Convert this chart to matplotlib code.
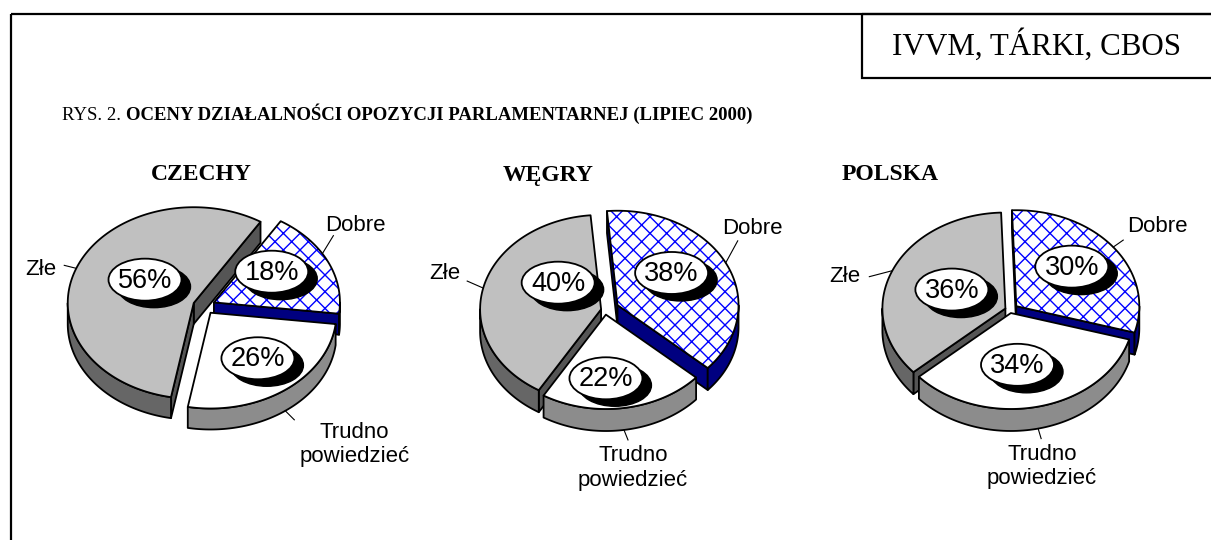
import numpy as np
import matplotlib
matplotlib.use("Agg")
import matplotlib.pyplot as plt
from matplotlib.patches import Polygon, Ellipse, Rectangle

# ---------------- data ----------------
countries = ["CZECHY", "WĘGRY", "POLSKA"]
categories = ["Dobre", "Trudno\npowiedzieć", "Złe"]
czechy = [18, 26, 56]
wegry = [38, 22, 40]
polska = [30, 34, 36]
series = [czechy, wegry, polska]
title_prefix = "RYS. 2. "
title_main = "OCENY DZIAŁALNOŚCI OPOZYCJI PARLAMENTARNEJ (LIPIEC 2000)"
source_text = "IVVM, TÁRKI, CBOS"

# ---------------- style ----------------
W, H = 1211, 540
SANS = "Liberation Sans"
SERIF = "Liberation Serif"
top_colors = ["white", "white", "#C0C0C0"]
wall_colors = ["#000080", "#8C8C8C", "#666666"]
face_colors = ["#000080", "#7A7A7A", "#555555"]
hatches = ["xx", None, None]

# per-pie geometry (screen px): center, radius, squash, depth, first-slice angle, explode
pies = [
    dict(c=(204, 306), R=126, k=0.76, d=21, start=58, ex=[11, 11, 11],
         lab_nudge=[(1, -10), (10, 7), (10, -6)],
         lead_da=[5, 0, 0],
         txt=[((11, -18), (33, -28)), ((9, 9), (69, 34)), ((-12, -3), (-35, 1))],
         title_x=201),
    dict(c=(605, 310), R=121, k=0.78, d=22, start=95, ex=[14, 6, 4],
         lab_nudge=[(0, -11), (-9, 17), (16, -16)],
         lead_da=[0, 0, 0],
         txt=[((12, -22), (27, -34)), ((4, 10), (9, 38)), ((-16, -7), (-38, -15))],
         title_x=548),
    dict(c=(1010, 310), R=123, k=0.78, d=22, start=92, ex=[8, 4, 5],
         lab_nudge=[(7, -10), (-7, 5), (3, 0)],
         lead_da=[0, 0, 0],
         txt=[((10, -7), (44, -21)), ((3, 10), (4, 38)), ((-23, 6), (-48, 6))],
         title_x=890),
]

plt.rcParams['hatch.linewidth'] = 1.0
fig = plt.figure(figsize=(W / 100, H / 100), dpi=100)
ax = fig.add_axes([0, 0, 1, 1])
ax.set_xlim(0, W)
ax.set_ylim(H, 0)
ax.axis("off")

# frame and source box
ax.add_patch(Rectangle((11, 14), W + 20, H + 20, fill=False, lw=1.6, ec="black"))
ax.add_patch(Rectangle((862, 14), W, 64, fill=False, lw=1.6, ec="black"))
ax.text(1037, 45, source_text, family=SERIF, fontsize=22.3, ha="center", va="center")

# title (regular prefix + bold remainder)
t1 = ax.text(62, 120, title_prefix, family=SERIF, fontsize=13.5, ha="left", va="baseline")
fig.canvas.draw()
r = fig.canvas.get_renderer()
bb = t1.get_window_extent(r)
x2 = ax.transData.inverted().transform((bb.x1, bb.y0))[0]
ax.text(x2, 120, title_main, family=SERIF, fontsize=13.5, fontweight="bold",
        ha="left", va="baseline")


def draw_pie(vals, g, name):
    cx, cy = g["c"]
    R, k, d = g["R"], g["k"], g["d"]
    tot = float(sum(vals))
    a = g["start"]
    slices = []
    for i, v in enumerate(vals):
        hi = a
        lo = a - v / tot * 360.0
        a = lo
        mid = np.radians((hi + lo) / 2)
        e = g["ex"][i]
        sc = (cx + e * np.cos(mid), cy - e * k * np.sin(mid))
        slices.append((i, lo, hi, sc))

    def P(sc, th, rr=1.0, dz=0.0):
        return (sc[0] + rr * R * np.cos(th), sc[1] - rr * k * R * np.sin(th) + dz)

    walls = []
    for i, lo, hi, sc in slices:
        # outer wall: front runs
        for n in range(-2, 2):
            s = max(lo, 180 + 360 * n)
            t = min(hi, 360 + 360 * n)
            if t > s:
                th = np.radians(np.linspace(s, t, 80))
                top = [P(sc, q) for q in th]
                bot = [P(sc, q, dz=d) for q in th[::-1]]
                pts = np.array(top + bot)
                walls.append((pts[:, 1].mean() + 1000, pts, wall_colors[i]))
        # radial faces
        for ang, sign in ((hi, 1), (lo, -1)):
            th = np.radians(ang)
            if sign * np.cos(th) < 0:
                c0 = sc
                c1 = P(sc, th)
                pts = np.array([c0, c1, (c1[0], c1[1] + d), (c0[0], c0[1] + d)])
                walls.append((pts[:, 1].mean(), pts, face_colors[i]))
    walls.sort(key=lambda w: w[0])
    for _, pts, col in walls:
        ax.add_patch(Polygon(pts, closed=True, fc=col, ec="black", lw=1.3, joinstyle="round"))

    for i, lo, hi, sc in slices:
        th = np.radians(np.linspace(hi, lo, 150))
        pts = np.array([sc] + [P(sc, q) for q in th])
        if hatches[i]:
            ax.add_patch(Polygon(pts, closed=True, fc="white", ec="#0000FF", lw=0, hatch=hatches[i]))
            ax.add_patch(Polygon(pts, closed=True, fill=False, ec="black", lw=1.3, joinstyle="round"))
        else:
            ax.add_patch(Polygon(pts, closed=True, fc=top_colors[i], ec="black", lw=1.3, joinstyle="round"))

    # percentage labels
    for i, lo, hi, sc in slices:
        mid = np.radians((hi + lo) / 2)
        lx, ly = P(sc, mid, rr=0.5)
        nx, ny = g["lab_nudge"][i]
        lx += nx
        ly += ny
        ax.add_patch(Ellipse((lx + 9, ly + 7), 73, 42, fc="black", ec="black", lw=1))
        ax.add_patch(Ellipse((lx, ly), 73, 42, fc="white", ec="black", lw=1.3))
        ax.text(lx, ly + 1, f"{vals[i]}%", family=SANS, fontsize=19.5, ha="center", va="center")

    # category labels with leader lines
    for i, lo, hi, sc in slices:
        mid = np.radians((hi + lo) / 2 + g["lead_da"][i])
        rx, ry = P(sc, mid, dz=(d if np.sin(mid) < 0 else 0))
        (ldx, ldy), (tdx, tdy) = g["txt"][i]
        ax.plot([rx, rx + ldx], [ry, ry + ldy], color="black", lw=0.8)
        ax.text(rx + tdx, ry + tdy, categories[i], family=SANS, fontsize=16,
                ha="center", va="center", linespacing=1.2)

    ax.text(g["title_x"], 175, name, family=SERIF, fontsize=17, fontweight="bold",
            ha="center", va="center")


for vals, g, name in zip(series, pies, countries):
    draw_pie(vals, g, name)

fig.savefig("out.png", dpi=100)
